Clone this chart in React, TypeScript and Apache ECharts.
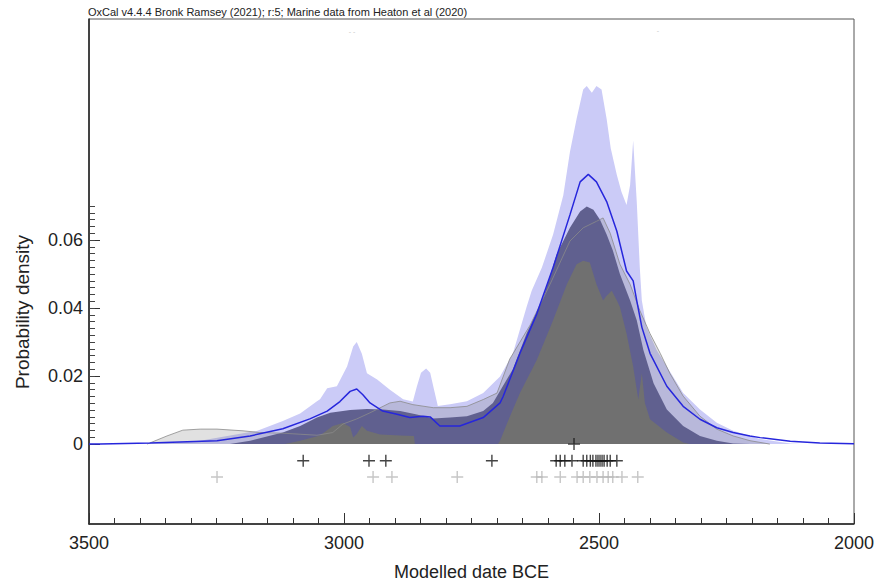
import React, { useEffect, useRef } from "react";
import * as echarts from "echarts";

// ---- Data (years BCE, probability density) ----
const lavenderYears = [3500, 3380, 3282, 3170, 3120, 3086, 3053, 3047, 3033, 3014, 2994, 2982, 2975, 2965, 2955, 2935, 2910, 2884, 2865, 2857, 2849, 2839, 2831, 2825, 2816, 2792, 2759, 2727, 2694, 2669, 2642, 2632, 2612, 2590, 2570, 2557, 2544, 2531, 2524, 2514, 2505, 2495, 2485, 2477, 2465, 2456, 2446, 2439, 2433, 2426, 2420, 2416, 2407, 2387, 2367, 2335, 2302, 2269, 2237, 2204, 2184, 2125, 2106, 2000];
const lavenderDensity = [0, 0, 0.001, 0.0039, 0.0068, 0.009, 0.0126, 0.0132, 0.0164, 0.017, 0.0228, 0.0287, 0.030, 0.0266, 0.0208, 0.019, 0.016, 0.0132, 0.0125, 0.017, 0.021, 0.0222, 0.021, 0.017, 0.0112, 0.0117, 0.0126, 0.015, 0.0199, 0.0266, 0.0403, 0.0451, 0.0519, 0.0616, 0.0732, 0.0859, 0.0956, 0.1043, 0.1053, 0.1033, 0.1053, 0.1043, 0.0956, 0.087, 0.0791, 0.0742, 0.0703, 0.0762, 0.0893, 0.0713, 0.0519, 0.0422, 0.0344, 0.0277, 0.0228, 0.015, 0.0102, 0.0063, 0.0039, 0.0024, 0.0015, 0.0002, 0, 0];

const meanYears = [3500, 3478, 3380, 3249, 3184, 3120, 3067, 3033, 3008, 2988, 2975, 2963, 2949, 2924, 2896, 2871, 2845, 2831, 2812, 2773, 2727, 2694, 2688, 2655, 2622, 2590, 2557, 2537, 2521, 2505, 2485, 2465, 2446, 2433, 2426, 2416, 2400, 2367, 2335, 2302, 2269, 2237, 2204, 2184, 2125, 2067, 2000];
const meanDensity = [0, 0, 0.0003, 0.001, 0.0024, 0.0045, 0.0074, 0.0097, 0.0125, 0.0155, 0.0162, 0.0145, 0.0121, 0.0097, 0.0088, 0.0078, 0.0082, 0.008, 0.0053, 0.0053, 0.0078, 0.0121, 0.014, 0.0267, 0.0383, 0.0519, 0.0674, 0.0771, 0.0793, 0.0771, 0.0713, 0.0626, 0.0509, 0.048, 0.0422, 0.0344, 0.0267, 0.017, 0.0111, 0.0073, 0.0048, 0.0034, 0.0024, 0.0019, 0.0008, 0.0003, 0.0001];

const slateYears = [3224, 3184, 3120, 3086, 3053, 3027, 2988, 2955, 2924, 2890, 2857, 2825, 2792, 2759, 2727, 2708, 2669, 2642, 2609, 2583, 2557, 2537, 2524, 2511, 2498, 2485, 2473, 2459, 2439, 2426, 2413, 2393, 2367, 2335, 2302, 2269, 2237, 2204];
const slateDensity = [0, 0.001, 0.0034, 0.0053, 0.0078, 0.0092, 0.01, 0.0103, 0.0102, 0.0097, 0.0087, 0.0075, 0.0078, 0.0082, 0.0097, 0.0121, 0.022, 0.0325, 0.0432, 0.0558, 0.0636, 0.0684, 0.0699, 0.0689, 0.066, 0.0616, 0.057, 0.05, 0.0422, 0.0364, 0.0277, 0.0179, 0.0102, 0.0053, 0.0024, 0.001, 0.0002, 0];

const kdeYears = [3116, 3086, 3047, 3022, 3002, 2988, 2982, 2975, 2965, 2955, 2929, 2890, 2863, 2861, 2698, 2694, 2680, 2655, 2622, 2590, 2563, 2544, 2531, 2518, 2505, 2492, 2485, 2475, 2465, 2459, 2446, 2433, 2423, 2416, 2410, 2400, 2367, 2335, 2322];
const kdeDensity = [0, 0.001, 0.0025, 0.0053, 0.0062, 0.005, 0.0019, 0.003, 0.0053, 0.0039, 0.0028, 0.0025, 0.0024, 0, 0, 0.001, 0.0062, 0.015, 0.0247, 0.0364, 0.047, 0.0529, 0.0539, 0.0534, 0.047, 0.0422, 0.0436, 0.0451, 0.0422, 0.0403, 0.0325, 0.0228, 0.0131, 0.0208, 0.0121, 0.0073, 0.0034, 0.0005, 0];

const sumYears = [3386, 3347, 3316, 3282, 3249, 3198, 3165, 3120, 3086, 3053, 3022, 3002, 2975, 2949, 2910, 2890, 2865, 2825, 2792, 2759, 2727, 2700, 2675, 2635, 2596, 2557, 2531, 2505, 2492, 2478, 2459, 2439, 2420, 2400, 2380, 2361, 2335, 2302, 2269, 2237, 2204, 2165];
const sumDensity = [0, 0.0024, 0.0041, 0.0044, 0.0044, 0.0039, 0.0034, 0.0032, 0.0029, 0.0026, 0.0034, 0.0059, 0.0074, 0.0092, 0.0121, 0.0126, 0.0116, 0.0107, 0.0107, 0.0111, 0.0131, 0.015, 0.025, 0.035, 0.047, 0.0597, 0.0636, 0.0655, 0.0665, 0.062, 0.0529, 0.047, 0.0393, 0.0325, 0.0267, 0.0208, 0.0141, 0.0082, 0.0044, 0.0024, 0.001, 0];

const blackRowDates = [3080, 2951, 2918, 2710, 2584, 2576, 2567, 2553, 2531, 2524, 2517, 2512, 2506, 2502, 2498, 2494, 2490, 2484, 2478, 2465];
const zeroRowDates = [2549];
const greyRowDates = [3249, 2943, 2906, 2778, 2622, 2612, 2576, 2543, 2531, 2518, 2504, 2492, 2482, 2473, 2455, 2424];
const blackRowLevel = -0.0049;
const greyRowLevel = -0.0097;

const yTickValues = [0, 0.02, 0.04, 0.06];
const yTickLabels = ["0", "0.02", "0.04", "0.06"];
const xTickLabels: Record<number, string> = { 2000: "2000", 2500: "2500", 3000: "3000", 3500: "3500" };

const titleText = "OxCal v4.4.4 Bronk Ramsey (2021); r:5; Marine data from Heaton et al (2020)";

const zip = (xs: number[], ys: number[]) => xs.map((x, i) => [x, ys[i]]);

const PLUS = "path://M0,5.3H12V6.7H0Z M5.3,0H6.7V12H5.3Z";
const FONT = "'Liberation Sans', Arial, Helvetica, sans-serif";

export default function App() {
  const ref = useRef<HTMLDivElement>(null);

  useEffect(() => {
    if (!ref.current) return;
    const chart = echarts.init(ref.current, undefined, { renderer: "svg" });

    const minorTicks: number[] = [];
    for (let i = 0; i <= 35; i++) minorTicks.push(+(i * 0.002).toFixed(3));

    const yMin = -0.0235;
    const yMax = 0.125;

    const option: any = {
      animation: false,
      textStyle: { fontFamily: FONT },
      grid: {
        left: 89,
        right: 37,
        top: 19,
        bottom: 57,
        show: true,
        borderColor: "#555",
        borderWidth: 1,
      },
      xAxis: {
        type: "value",
        min: 2000,
        max: 3500,
        interval: 500,
        inverse: true,
        axisLine: { show: true, onZero: false, lineStyle: { color: "#222", width: 1.5 } },
        axisTick: { show: true, inside: true, length: 11, lineStyle: { color: "#333" } },
        minorTick: { show: true, splitNumber: 10, length: 6, lineStyle: { color: "#333" } },
        axisLabel: {
          fontSize: 18,
          color: "#222",
          margin: 10,
          formatter: (v: number) => xTickLabels[v] ?? String(v),
        },
        splitLine: { show: false },
        minorSplitLine: { show: false },
        name: "Modelled date BCE",
        nameLocation: "middle",
        nameGap: 39,
        nameTextStyle: { fontSize: 18, color: "#222" },
      },
      yAxis: [
        {
          type: "value",
          min: yMin,
          max: yMax,
          position: "left",
          axisLine: { show: true, onZero: false, lineStyle: { color: "#222", width: 1.5 } },
          axisTick: {
            show: true,
            inside: true,
            length: 11,
            customValues: yTickValues,
            lineStyle: { color: "#333" },
          },
          axisLabel: {
            customValues: yTickValues,
            formatter: (v: number) => {
              const i = yTickValues.findIndex((t) => Math.abs(t - v) < 1e-9);
              return i >= 0 ? yTickLabels[i] : "";
            },
            fontSize: 18,
            color: "#222",
            margin: 6,
          },
          splitLine: { show: false },
        },
        {
          type: "value",
          min: yMin,
          max: yMax,
          position: "left",
          axisLine: { show: false },
          axisTick: {
            show: true,
            inside: true,
            length: 6,
            customValues: minorTicks,
            lineStyle: { color: "#444" },
          },
          axisLabel: { show: false },
          splitLine: { show: false },
        },
      ],
      graphic: [
        {
          type: "text",
          left: 88,
          top: 6,
          style: { text: titleText, fontSize: 11, fill: "#222", fontFamily: FONT },
        },
        {
          type: "text",
          x: 22,
          y: 312,
          rotation: Math.PI / 2,
          style: {
            text: "Probability density",
            fontSize: 19,
            fill: "#222",
            fontFamily: FONT,
            align: "center",
            verticalAlign: "middle",
          },
        },
        {
          type: "text",
          x: 352,
          y: 31,
          style: { text: "- -", fontSize: 7, fill: "#c8c8c8", align: "center", verticalAlign: "middle" },
        },
        {
          type: "text",
          x: 658,
          y: 30,
          style: { text: "-", fontSize: 7, fill: "#c8c8c8", align: "center", verticalAlign: "middle" },
        },
      ],
      series: [
        {
          name: "upper",
          type: "line",
          data: zip(lavenderYears, lavenderDensity),
          symbol: "none",
          lineStyle: { width: 0, opacity: 0 },
          areaStyle: { color: "#cbcbf7", opacity: 1 },
          z: 1,
        },
        {
          name: "sumFill",
          type: "line",
          data: zip(sumYears, sumDensity),
          symbol: "none",
          lineStyle: { width: 0, opacity: 0 },
          areaStyle: { color: "rgba(120,120,120,0.22)", opacity: 1 },
          z: 2,
        },
        {
          name: "band",
          type: "line",
          data: zip(slateYears, slateDensity),
          symbol: "none",
          lineStyle: { width: 0, opacity: 0 },
          areaStyle: { color: "#60608f", opacity: 1 },
          z: 3,
        },
        {
          name: "kde",
          type: "line",
          data: zip(kdeYears, kdeDensity),
          symbol: "none",
          lineStyle: { width: 0, opacity: 0 },
          areaStyle: { color: "#707070", opacity: 1 },
          z: 4,
        },
        {
          name: "sumLine",
          type: "line",
          data: zip(sumYears, sumDensity),
          symbol: "none",
          lineStyle: { width: 0.8, color: "#8a8a8a" },
          z: 5,
        },
        {
          name: "mean",
          type: "line",
          data: zip(meanYears, meanDensity),
          symbol: "none",
          lineStyle: { width: 1.5, color: "#2626dc" },
          z: 6,
        },
        {
          name: "dates",
          type: "scatter",
          data: blackRowDates.map((d) => [d, blackRowLevel]).concat(zeroRowDates.map((d) => [d, 0])),
          symbol: PLUS,
          symbolSize: 12,
          itemStyle: { color: "#151515" },
          z: 7,
        },
        {
          name: "unmodelled",
          type: "scatter",
          data: greyRowDates.map((d) => [d, greyRowLevel]),
          symbol: PLUS,
          symbolSize: 12,
          itemStyle: { color: "#b8b8b8" },
          z: 7,
        },
      ],
    };

    chart.setOption(option);
    return () => chart.dispose();
  }, []);

  return (
    <div
      ref={ref}
      style={{ position: "fixed", left: 0, top: 0, width: 891, height: 586, background: "#fff" }}
    />
  );
}
